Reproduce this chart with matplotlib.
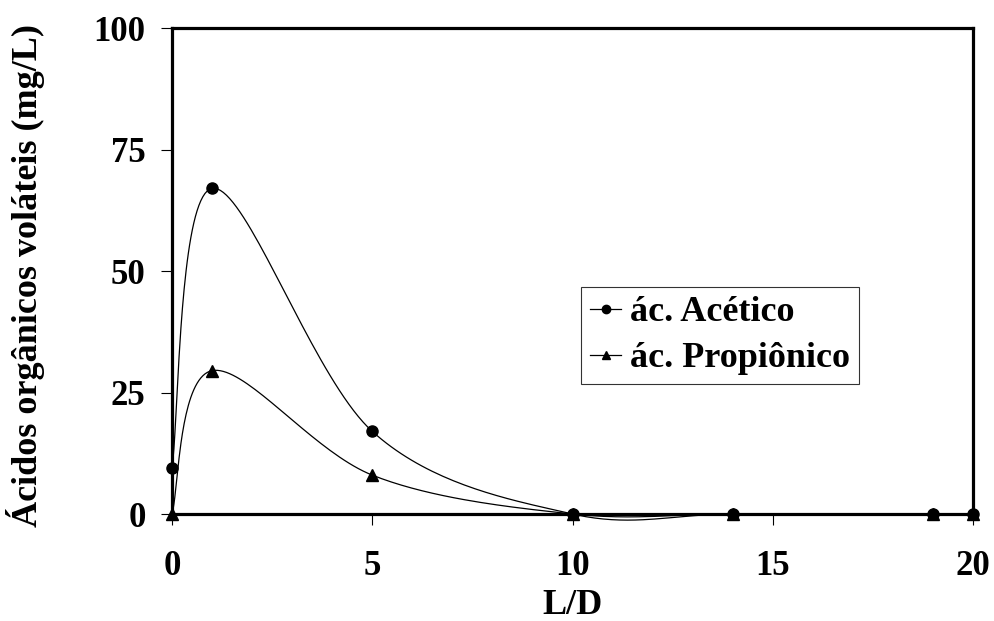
import numpy as np
import matplotlib.pyplot as plt

ld = [0, 1, 5, 10, 14, 19, 20]
acetico = [9.5, 67, 17, 0, 0, 0, 0]
propionico = [0, 29.5, 8, 0, 0, 0, 0]

plt.rcParams['font.family'] = ['Liberation Serif', 'DejaVu Serif']
plt.rcParams['font.weight'] = 'bold'

fig = plt.figure(figsize=(9.95, 6.21), dpi=100)
ax = fig.add_axes([0.1729, 0.1723, 0.805, 0.7826])
ax.set_xlim(0, 20)
ax.set_ylim(0, 100)


def suave(x, y, n=40):
    # bezier smoothing in pixel space, like a spreadsheet smoothed line
    sx = 801 / 20.0
    sy = 486 / 100.0
    p = np.column_stack([np.asarray(x, float) * sx, np.asarray(y, float) * sy])
    out = [p[0]]
    m = len(p)
    for i in range(m - 1):
        p0 = p[i - 1] if i > 0 else p[i]
        p1 = p[i]
        p2 = p[i + 1]
        p3 = p[i + 2] if i + 2 < m else p[i + 1]
        d02 = np.hypot(*(p2 - p0))
        d13 = np.hypot(*(p3 - p1))
        d12 = np.hypot(*(p2 - p1))
        f1 = f2 = 1 / 6.0
        if d02 / 6 >= d12 / 2 and d02 > 0:
            f1 = d12 / (2 * d02)
        if d13 / 6 >= d12 / 2 and d13 > 0:
            f2 = d12 / (2 * d13)
        c1 = p1 + f1 * (p2 - p0)
        c2 = p2 - f2 * (p3 - p1)
        t = np.linspace(0, 1, n)[1:, None]
        b = ((1 - t) ** 3) * p1 + 3 * ((1 - t) ** 2) * t * c1 + 3 * (1 - t) * t ** 2 * c2 + t ** 3 * p2
        out.extend(b)
    out = np.array(out)
    return out[:, 0] / sx, out[:, 1] / sy


xa, ya = suave(ld, acetico)
xp, yp = suave(ld, propionico)
ax.plot(xa, ya, color='black', lw=0.9, clip_on=False, zorder=3)
ax.plot(xp, yp, color='black', lw=0.9, clip_on=False, zorder=3)
ax.plot(ld, acetico, 'o', color='black', ms=8, clip_on=False, zorder=5)
ax.plot(ld, propionico, '^', color='black', ms=8, clip_on=False, zorder=5)

# legend handles
h1, = ax.plot([], [], '-o', color='black', lw=0.9, ms=6)
h2, = ax.plot([], [], '-^', color='black', lw=0.9, ms=6)
leg = ax.legend([h1, h2], ['ác. Acético', 'ác. Propiônico'],
                loc='upper left', bbox_to_anchor=(0.511, 0.467),
                prop={'size': 26, 'weight': 'bold'}, frameon=True, fancybox=False,
                edgecolor='black', handlelength=0.85, handletextpad=0.25,
                borderpad=0.25, labelspacing=0.35, borderaxespad=0)
leg.get_frame().set_linewidth(0.8)

for s in ax.spines.values():
    s.set_linewidth(2.3)
    s.set_zorder(4)

ax.set_xticks([0, 5, 10, 15, 20])
ax.set_yticks([0, 25, 50, 75, 100])
ax.tick_params(axis='y', direction='out', length=8, width=0.8, pad=11, labelsize=25)
ax.tick_params(axis='x', direction='out', length=8, width=0.8, pad=18, labelsize=25)

ax.set_xlabel('L/D', fontsize=26, fontweight='bold')
ax.set_ylabel('Ácidos orgânicos voláteis (mg/L)', fontsize=26, fontweight='bold')
ax.xaxis.set_label_coords(0.5, -0.154)
ax.yaxis.set_label_coords(-0.158, 0.49)

fig.savefig('out.png', dpi=100)
